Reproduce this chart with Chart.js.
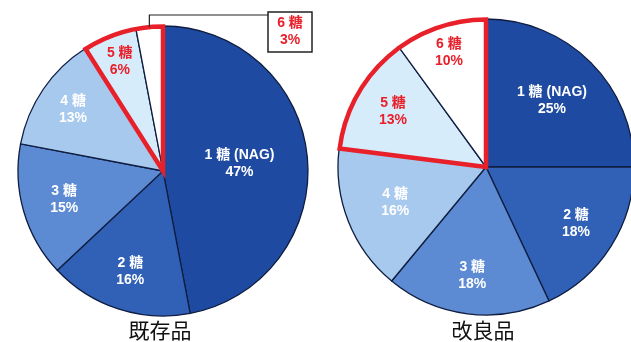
<!DOCTYPE html>
<html>
<head>
<meta charset="utf-8">
<script src="https://cdn.jsdelivr.net/npm/chart.js@4/dist/chart.umd.min.js"></script>
<style>
  html, body { margin: 0; padding: 0; background: #fff; }
  #wrap { position: relative; width: 631px; height: 342px; overflow: hidden; background: #fff; }
  .pie { position: absolute; top: 0; }
</style>
</head>
<body>
<div id="wrap">
  <div class="pie" style="left:0;width:326px;height:342px"><canvas id="existing"></canvas></div>
  <div class="pie" style="left:326px;width:320px;height:342px"><canvas id="improved"></canvas></div>
</div>
<script>
// Oligosaccharide composition (share of total, %)
const categories = ['1 糖 (NAG)', '2 糖', '3 糖', '4 糖', '5 糖', '6 糖'];
const existingValues = [47, 16, 15, 13, 6, 3];
const improvedValues = [25, 18, 18, 16, 13, 10];
const chartTitles = ['既存品', '改良品'];

const sliceColors = ['#1e4ba1', '#3061b6', '#5c8bd3', '#a7c9ee', '#d7ecfb', '#ffffff'];
const labelColors = ['#ffffff', '#ffffff', '#ffffff', '#ffffff', '#e8202a', '#e8202a'];
const RED = '#e8202a';
const LABEL_FONT = 'bold 14px "Liberation Sans", "Noto Sans CJK JP", sans-serif';
const TITLE_FONT = '21px "Noto Sans CJK JP", sans-serif';

// Draws slice labels, the red outline around the 5+6 sugar slices,
// the optional callout box and the title under each pie.
const annotate = {
  id: 'annotate',
  afterDatasetsDraw(chart, args, opts) {
    const ctx = chart.ctx;
    const meta = chart.getDatasetMeta(0);
    const values = chart.data.datasets[0].data;
    const arcs = meta.data.map(a => a.getProps(['x', 'y', 'startAngle', 'endAngle', 'outerRadius'], true));
    const cx = arcs[0].x, cy = arcs[0].y, r = arcs[0].outerRadius;

    // red outline enclosing the higher oligomers
    const first = arcs[opts.highlightFrom];
    const last = arcs[arcs.length - 1];
    ctx.save();
    ctx.beginPath();
    ctx.moveTo(cx, cy);
    ctx.arc(cx, cy, r - 0.5, first.startAngle, last.endAngle);
    ctx.closePath();
    ctx.strokeStyle = RED;
    ctx.lineWidth = 4.5;
    ctx.lineJoin = 'miter';
    ctx.stroke();
    ctx.restore();

    // labels
    ctx.save();
    ctx.font = LABEL_FONT;
    ctx.textAlign = 'center';
    ctx.textBaseline = 'middle';
    arcs.forEach((a, i) => {
      const text1 = chart.data.labels[i];
      const text2 = values[i] + '%';
      const mid = (a.startAngle + a.endAngle) / 2;
      if (opts.callout === i) {
        // leader line from the slice edge to a boxed label
        const px = cx + Math.cos(mid) * r, py = cy + Math.sin(mid) * r;
        const bx = opts.box.x, by = opts.box.y, bw = opts.box.w, bh = opts.box.h;
        ctx.save();
        ctx.strokeStyle = '#222';
        ctx.lineWidth = 1.2;
        ctx.beginPath();
        ctx.moveTo(px, py);
        ctx.lineTo(px, opts.box.lineY);
        ctx.lineTo(bx, opts.box.lineY);
        ctx.stroke();
        ctx.fillStyle = '#fff';
        ctx.fillRect(bx, by, bw, bh);
        ctx.lineWidth = 1.5;
        ctx.strokeRect(bx, by, bw, bh);
        ctx.restore();
        ctx.fillStyle = labelColors[i];
        ctx.fillText(text1, bx + bw / 2, by + bh / 2 - 8.5);
        ctx.fillText(text2, bx + bw / 2, by + bh / 2 + 8.5);
        return;
      }
      const d = r * opts.labelRadius[i];
      const lx = cx + Math.cos(mid) * d, ly = cy + Math.sin(mid) * d;
      ctx.fillStyle = labelColors[i];
      ctx.fillText(text1, lx, ly - 8.5);
      ctx.fillText(text2, lx, ly + 8.5);
    });
    ctx.restore();

    // title under the pie
    ctx.save();
    ctx.font = TITLE_FONT;
    ctx.fillStyle = '#111';
    ctx.textAlign = 'center';
    ctx.textBaseline = 'middle';
    ctx.fillText(opts.title, cx + opts.titleDx, opts.titleY);
    ctx.restore();
  }
};

function makePie(id, values, radius, padding, extra) {
  return new Chart(document.getElementById(id), {
    type: 'pie',
    data: {
      labels: categories,
      datasets: [{
        data: values,
        backgroundColor: sliceColors,
        borderColor: '#0f1d40',
        borderWidth: 1.3,
        borderJoinStyle: 'miter'
      }]
    },
    options: {
      responsive: true,
      maintainAspectRatio: false,
      animation: false,
      radius: radius,
      layout: { padding: padding },
      events: [],
      plugins: {
        legend: { display: false },
        tooltip: { enabled: false },
        annotate: extra
      }
    },
    plugins: [annotate]
  });
}

makePie('existing', existingValues, 145,
  { left: 18, right: 18, top: 26, bottom: 26 },
  {
    highlightFrom: 4,
    labelRadius: [0.53, 0.73, 0.71, 0.75, 0.81, 0.8],
    callout: 5,
    box: { x: 268, y: 12, w: 44, h: 40, lineY: 15 },
    title: chartTitles[0], titleDx: -3, titleY: 330
  });

makePie('improved', improvedValues, 148,
  { left: 12, right: 12, top: 19, bottom: 27 },
  {
    highlightFrom: 4,
    labelRadius: [0.63, 0.72, 0.74, 0.66, 0.73, 0.81],
    callout: -1,
    title: chartTitles[1], titleDx: -3, titleY: 330
  });
</script>
</body>
</html>
